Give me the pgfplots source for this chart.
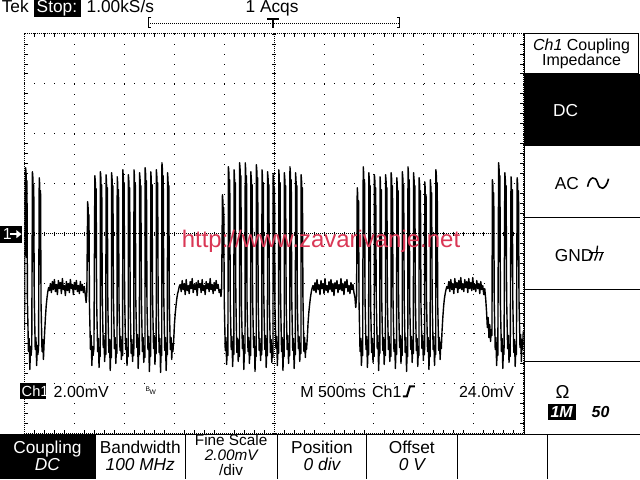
\documentclass[border=0pt]{standalone}
\usepackage{pgfplots}
\pgfplotsset{compat=1.18}
\usepackage{fontspec}
\setmainfont{Liberation Sans}
\definecolor{wm}{RGB}{218,55,85}
\begin{document}
\begin{tikzpicture}
\begin{scope}[x=0.75pt,y=-0.75pt]
\useasboundingbox (0,0) rectangle (640,480);
\fill[white] (0,0) rectangle (640,480);
\end{scope}
\begin{axis}[
  at={(18pt,-325.5pt)}, anchor=south west,
  width=375pt, height=300pt, scale only axis,
  xmin=24, xmax=524, ymin=34, ymax=434, y dir=reverse,
  xtick={24,74,...,524}, ytick={34,84,...,434},
  minor x tick num=4, minor y tick num=4,
  xticklabels={}, yticklabels={},
  tick align=inside, major tick length=0pt, minor tick length=2.5pt,
  tick style={black, line width=0.6pt},
  axis line style={black, line width=0.75pt, dash pattern=on 0.75pt off 0.75pt},
  grid=major,
  major grid style={black, line width=0.75pt, dash pattern=on 0.75pt off 6.75pt},
  extra x ticks={274}, extra y ticks={234},
  extra x tick labels={}, extra y tick labels={},
  extra tick style={grid=major, major grid style={black, line width=0.6pt, dash pattern=on 0.75pt off 0.75pt}},
]
\addplot[black, line width=1.05pt, line join=round, no marks] coordinates {
(24,330)(24.6,200)(25.2,168)(25.7,175)(26.1,258)(26.5,181)(27,302)(28,352)(28.7,339)(29.4,370)(30.1,347)(30.6,356)(31.3,348)
(32,172)(32.5,179)(32.9,262)(33.3,185)(33.8,298)(34.8,350)(35.5,338)(36.2,366)(36.9,346)(37.4,355)(38.1,349)
(38.8,178)(39.3,185)(39.7,265)(40.1,191)(40.6,304)(41.6,352)(42.3,340)(43,360)(43.6,345)(44.2,333)(45,318)(45.8,306)(46.6,298)(47.4,292)(48.2,288)
(49,291)(50,284)(51,293)(52,282)(53,290)(54,280)(55,292)(56,285)(57,295)(58,281)(59,289)(60,283)(61,294)(62,279)(63,290)(64,286)(65,296)(66,282)(67,291)(68,284)(69,293)(70,280)(71,289)(72,285)(73,295)(74,283)(75,290)(76,281)(77,292)(78,286)(79,294)(80,282)(81,291)(82,285)(83,293)(84,287)(85,296)(85.8,303)(86.5,292)
(87.3,202)(87.8,209)(88.2,262)(88.6,215)(89.1,305)(90.1,350)(90.8,336)(91.5,366)(92.2,347)(92.7,356)(93.6,349)
(94.5,176)(95,183)(95.4,258)(95.8,189)(96.3,302)(97.3,352)(98,339)(98.7,368)(99.4,348)(99.9,357)
(100.1,172)(100.6,179)(101,262)(101.4,185)(101.9,296)(102.9,348)(103.6,336)(104.3,362)(105,345)(105.5,355)
(105.7,175)(106.2,182)(106.6,255)(107,188)(107.5,306)(108.5,353)(109.2,340)(109.9,371)(110.6,347)(111.1,358)
(111.3,173)(111.8,180)(112.2,266)(112.6,186)(113.1,298)(114.1,349)(114.8,338)(115.5,364)(116.2,346)(116.7,354)
(116.9,177)(117.4,184)(117.8,259)(118.2,190)(118.7,303)(119.7,351)(120.4,337)(121.1,360)(121.8,344)(122.3,356)
(122.5,170)(123,177)(123.4,252)(123.8,183)(124.3,295)(125.3,350)(126,339)(126.7,366)(127.4,348)(127.9,357)
(128.1,175)(128.6,182)(129,264)(129.4,188)(129.9,308)(130.9,354)(131.6,340)(132.3,362)(133,345)(133.5,356)
(133.7,170)(134.2,177)(134.6,257)(135,183)(135.5,300)(136.5,348)(137.2,335)(137.9,369)(138.6,346)(139.1,355)
(139.3,173)(139.8,180)(140.2,261)(140.6,186)(141.1,297)(142.1,352)(142.8,338)(143.5,363)(144.2,347)(144.7,358)
(144.9,168)(145.4,175)(145.8,255)(146.2,181)(146.7,304)(147.7,350)(148.4,337)(149.1,372)(149.8,349)(150.3,357)
(150.5,172)(151,179)(151.4,263)(151.8,185)(152.3,299)(153.3,349)(154,336)(154.7,365)(155.4,345)(155.9,354)
(156.1,170)(156.6,177)(157,258)(157.4,183)(157.9,302)(158.9,353)(159.6,339)(160.3,373)(161,346)(161.5,356)
(161.7,163)(162.2,170)(162.6,256)(163,176)(163.5,296)(164.5,351)(165.2,338)(165.9,371)(166.6,347)(167.1,355)
(167.3,173)(167.8,180)(168.2,262)(168.6,186)(169.1,305)(170.1,350)(170.8,338)(171.5,360)(172.2,344)(172.7,352)
(173.5,340)(174.2,325)(175,314)(175.8,306)(176.6,299)(177.4,294)(178.2,291)(179,287)
(180,285)(181,292)(182,281)(183,290)(184,284)(185,295)(186,280)(187,291)(188,286)(189,294)(190,282)(191,289)(192,279)(193,293)(194,285)(195,290)(196,283)(197,296)(198,281)(199,288)(200,284)(201,293)(202,280)(203,291)(204,286)(205,295)(206,282)(207,289)(208,284)(209,292)(210,279)(211,290)(212,285)(213,294)(214,283)(215,291)(216,281)(217,289)(218,285)(219,293)(220,290)(220.8,297)(221.5,289)
(222.3,195)(222.8,202)(223.2,258)(223.6,208)(224.1,300)(225.1,351)(225.8,338)(226.5,365)(227.2,347)(227.7,356)
(228.3,167)(228.8,174)(229.2,260)(229.6,180)(230.1,303)(231.1,350)(231.8,337)(232.5,367)(233.2,346)(233.7,355)
(233.9,170)(234.4,177)(234.8,254)(235.2,183)(235.7,297)(236.7,353)(237.4,339)(238.1,362)(238.8,345)(239.3,357)
(239.5,163)(240,170)(240.4,265)(240.8,176)(241.3,306)(242.3,349)(243,336)(243.7,370)(244.4,348)(244.9,354)
(245.1,163)(245.6,170)(246,259)(246.4,176)(246.9,301)(247.9,352)(248.6,338)(249.3,364)(250,344)(250.5,356)
(250.7,172)(251.2,179)(251.6,262)(252,185)(252.5,299)(253.5,348)(254.2,337)(254.9,372)(255.6,347)(256.1,357)
(256.3,165)(256.8,172)(257.2,256)(257.6,178)(258.1,304)(259.1,351)(259.8,339)(260.5,361)(261.2,345)(261.7,355)
(261.9,170)(262.4,177)(262.8,263)(263.2,183)(263.7,296)(264.7,350)(265.4,336)(266.1,368)(266.8,348)(267.3,356)
(267.5,172)(268,179)(268.4,257)(268.8,185)(269.3,302)(270.3,353)(271,340)(271.7,363)(272.4,346)(272.9,358)
(273.1,175)(273.6,182)(274,261)(274.4,188)(274.9,307)(275.9,349)(276.6,337)(277.3,366)(278,344)(278.5,354)
(278.7,170)(279.2,177)(279.6,253)(280,183)(280.5,298)(281.5,352)(282.2,338)(282.9,371)(283.6,347)(284.1,357)
(284.3,173)(284.8,180)(285.2,264)(285.6,186)(286.1,303)(287.1,350)(287.8,336)(288.5,364)(289.2,345)(289.7,356)
(289.9,167)(290.4,174)(290.8,259)(291.2,180)(291.7,300)(292.7,351)(293.4,339)(294.1,369)(294.8,348)(295.3,355)
(295.5,173)(296,180)(296.4,256)(296.8,186)(297.3,305)(298.3,349)(299,337)(299.7,362)(300.4,346)(300.9,354)
(301.1,175)(301.6,182)(302,262)(302.4,188)(302.9,297)(303.9,352)(304.6,338)(305.3,358)(306,344)(306.5,350)
(307.3,338)(308,324)(308.8,313)(309.6,305)(310.4,298)(311.2,293)(312,289)(313,286)
(314,291)(315,283)(316,293)(317,280)(318,290)(319,285)(320,295)(321,281)(322,289)(323,284)(324,294)(325,279)(326,291)(327,286)(328,293)(329,282)(330,290)(331,280)(332,292)(333,284)(334,296)(335,283)(336,289)(337,281)(338,293)(339,285)(340,290)(341,279)(342,291)(343,284)(344,295)(345,282)(346,288)(347,280)(348,292)(349,286)(350,294)(351,283)(352,290)(353,285)(354,293)(355,298)(355.8,308)(356.6,297)
(357.3,188)(357.8,195)(358.2,264)(358.6,201)(359.1,303)(360.1,352)(360.8,339)(361.5,366)(362.2,347)(362.7,356)
(363.3,167)(363.8,174)(364.2,258)(364.6,180)(365.1,299)(366.1,350)(366.8,337)(367.5,368)(368.2,346)(368.7,355)
(368.9,173)(369.4,180)(369.8,261)(370.2,186)(370.7,304)(371.7,353)(372.4,339)(373.1,363)(373.8,345)(374.3,357)
(374.5,175)(375,182)(375.4,255)(375.8,188)(376.3,297)(377.3,349)(378,336)(378.7,371)(379.4,348)(379.9,354)
(380.1,177)(380.6,184)(381,263)(381.4,190)(381.9,306)(382.9,351)(383.6,338)(384.3,365)(385,344)(385.5,356)
(385.7,175)(386.2,182)(386.6,259)(387,188)(387.5,301)(388.5,350)(389.2,337)(389.9,362)(390.6,347)(391.1,357)
(391.3,173)(391.8,180)(392.2,256)(392.6,186)(393.1,298)(394.1,352)(394.8,340)(395.5,369)(396.2,346)(396.7,355)
(396.9,178)(397.4,185)(397.8,265)(398.2,191)(398.7,303)(399.7,348)(400.4,336)(401.1,364)(401.8,345)(402.3,356)
(402.5,172)(403,179)(403.4,260)(403.8,185)(404.3,300)(405.3,353)(406,338)(406.7,372)(407.4,348)(407.9,357)
(408.1,167)(408.6,174)(409,254)(409.4,180)(409.9,307)(410.9,350)(411.6,337)(412.3,363)(413,344)(413.5,354)
(413.7,173)(414.2,180)(414.6,262)(415,186)(415.5,299)(416.5,351)(417.2,339)(417.9,367)(418.6,347)(419.1,356)
(419.3,178)(419.8,185)(420.2,257)(420.6,191)(421.1,304)(422.1,349)(422.8,336)(423.5,361)(424.2,345)(424.7,355)
(424.9,182)(425.4,189)(425.8,263)(426.2,195)(426.7,302)(427.7,352)(428.4,338)(429.1,370)(429.8,348)(430.3,357)
(430.5,180)(431,187)(431.4,258)(431.8,193)(432.3,297)(433.3,350)(434,337)(434.7,366)(435.4,346)(435.9,355)
(436.1,170)(436.6,177)(437,261)(437.4,183)(437.9,305)(438.9,351)(439.6,338)(440.3,360)(441,343)(441.5,349)
(442.2,332)(443,318)(443.8,307)(444.6,299)(445.4,294)(446.2,290)(447,287)
(448,289)(449,282)(450,292)(451,280)(452,290)(453,284)(454,294)(455,279)(456,288)(457,283)(458,293)(459,281)(460,289)(461,278)(462,290)(463,284)(464,292)(465,280)(466,288)(467,282)(468,293)(469,279)(470,289)(471,283)(472,291)(473,278)(474,290)(475,285)(476,292)(477,281)(478,289)(479,284)(480,294)(481,282)(482,290)(483,286)(484,295)(485,289)
(486,300)(486.8,312)(487.6,328)(488.4,318)(489.2,338)(490,325)(490.8,342)(491.6,330)(492.2,336)
(492.7,180)(493.2,187)(493.6,259)(494,193)(494.5,302)(495.5,350)(496.2,338)(496.9,366)(497.6,347)(498.1,356)
(498.9,163)(499.4,170)(499.8,262)(500.2,176)(500.7,305)(501.7,352)(502.4,339)(503.1,369)(503.8,346)(504.3,355)
(505.1,173)(505.6,180)(506,256)(506.4,186)(506.9,298)(507.9,349)(508.6,336)(509.3,363)(510,345)(510.5,357)
(511.3,177)(511.8,184)(512.2,264)(512.6,190)(513.1,303)(514.1,353)(514.8,340)(515.5,367)(516.2,347)(516.7,355)
(517.5,178)(518,185)(518.4,260)(518.8,191)(519.3,300)(520.3,348)(521,335)(521.7,362)(522.4,340)(522.9,350)(523.6,332)(524,341)
};
\end{axis}
\begin{scope}[x=0.75pt,y=-0.75pt]
% center line cross ticks
\foreach \x in {24,34,...,524} \draw[line width=0.6pt] (\x,232) -- (\x,236);
\foreach \y in {34,44,...,434} \draw[line width=0.6pt] (272,\y) -- (276,\y);
% header
\node[anchor=base west, inner sep=0, font=\fontsize{13pt}{15pt}\selectfont] at (1,13) {Tek};
\fill[black] (34,0) rectangle (81,17);
\node[anchor=base west, inner sep=0, text=white, font=\fontsize{13pt}{15pt}\selectfont] at (36,13) {Stop:};
\node[anchor=base west, inner sep=0, font=\fontsize{13pt}{15pt}\selectfont] at (86,13) {1.00kS/s};
\node[anchor=base, inner sep=0, font=\fontsize{13pt}{15pt}\selectfont] at (272,13) {1 Acqs};
\draw[line width=0.75pt] (151,18) -- (148,18) -- (148,28) -- (151,28);
\draw[line width=0.75pt] (397,18) -- (400,18) -- (400,28) -- (397,28);
\draw[line width=0.75pt, dash pattern=on 0.75pt off 0.75pt] (148,24) -- (400,24);
\draw[line width=1.5pt] (267,19) -- (279,19);
\draw[line width=1.5pt] (273,19) -- (273,28);
% channel marker
\fill[black] (0,226) rectangle (22,243);
\node[anchor=base west, inner sep=0, text=white, font=\fontsize{12pt}{14pt}\selectfont] at (2,240) {1};
\draw[white, line width=1.2pt] (10,234.5) -- (17,234.5);
\fill[white] (21,234.5) -- (16,230.5) -- (16,238.5) -- cycle;
% watermark
\node[anchor=base, inner sep=0, text=wm, font=\fontsize{18pt}{20pt}\selectfont] at (321,248) {http://www.zavarivanje.net};
% readouts
\fill[black] (20,384) rectangle (46,400);
\node[anchor=base west, inner sep=0, text=white, font=\fontsize{11pt}{13pt}\selectfont] at (21,397) {Ch1};
\node[anchor=base west, inner sep=0, font=\fontsize{12pt}{14pt}\selectfont] at (53,398) {2.00mV};
\node[anchor=base west, inner sep=0, font=\fontsize{5pt}{5pt}\selectfont] at (145,392) {B};
\node[anchor=base west, inner sep=0, font=\fontsize{5pt}{5pt}\selectfont] at (149,395) {W};
\node[anchor=base west, inner sep=0, font=\fontsize{12pt}{14pt}\selectfont] at (300,398) {M 500ms};
\node[anchor=base west, inner sep=0, font=\fontsize{12pt}{14pt}\selectfont] at (372,398) {Ch1};
\draw[line width=1.5pt] (403,397) -- (407,397) -- (410,387) -- (415,387);
\node[anchor=base west, inner sep=0, font=\fontsize{12pt}{14pt}\selectfont] at (459,398) {24.0mV};
% right menu
\draw[line width=0.75pt] (525,34) rectangle (639,74);
\node[anchor=base, inner sep=0, font=\fontsize{12pt}{14pt}\selectfont] at (582,51) {\textit{Ch1} Coupling};
\node[anchor=base, inner sep=0, font=\fontsize{12pt}{14pt}\selectfont] at (582,66) {Impedance};
\fill[black] (525,74) rectangle (640,146);
\node[anchor=base, inner sep=0, text=white, font=\fontsize{13pt}{15pt}\selectfont] at (566,117) {DC};
\draw[line width=0.75pt] (525,74) -- (525,435);
\draw[line width=0.75pt] (525,218) -- (640,218);
\draw[line width=0.75pt] (525,290) -- (640,290);
\draw[line width=0.75pt] (525,362) -- (640,362);
\node[anchor=base west, inner sep=0, font=\fontsize{13pt}{15pt}\selectfont] at (555,190) {AC};
\draw[line width=1.2pt] (588,187) .. controls (590,176) and (596,176) .. (598,183) .. controls (600,191) and (606,191) .. (609,179);
\node[anchor=base west, inner sep=0, font=\fontsize{13pt}{15pt}\selectfont] at (555,262) {GND};
\draw[line width=1pt] (589,253) -- (604,253);
\draw[line width=1pt] (597,253) -- (598,246);
\draw[line width=1pt] (593,253) -- (590,261);
\draw[line width=1pt] (598,253) -- (595,261);
\draw[line width=1pt] (603,253) -- (600,261);
\node[anchor=base, inner sep=0, font=\fontsize{14pt}{16pt}\selectfont] at (563,399) {Ω};
\fill[black] (548,405) rectangle (576,421);
\node[anchor=base, inner sep=0, text=white, font=\fontsize{12pt}{14pt}\selectfont\bfseries\itshape] at (562,418) {1M};
\node[anchor=base, inner sep=0, font=\fontsize{12pt}{14pt}\selectfont\bfseries\itshape] at (601,418) {50};
% bottom buttons
\draw[line width=0.75pt] (0,435) -- (640,435);
\fill[black] (0,435) rectangle (95,480);
\foreach \x in {95,185,277,367,458,548} \draw[line width=0.75pt] (\x,435) -- (\x,480);
\node[anchor=base, inner sep=0, text=white, font=\fontsize{13pt}{15pt}\selectfont] at (47,454) {Coupling};
\node[anchor=base, inner sep=0, text=white, font=\fontsize{13pt}{15pt}\selectfont\itshape] at (47,471) {DC};
\node[anchor=base, inner sep=0, font=\fontsize{13pt}{15pt}\selectfont] at (140,454) {Bandwidth};
\node[anchor=base, inner sep=0, font=\fontsize{13pt}{15pt}\selectfont\itshape] at (140,471) {100 MHz};
\node[anchor=base, inner sep=0, font=\fontsize{11.5pt}{13pt}\selectfont] at (231,446) {Fine Scale};
\node[anchor=base, inner sep=0, font=\fontsize{11.5pt}{13pt}\selectfont\itshape] at (231,461) {2.00mV};
\node[anchor=base, inner sep=0, font=\fontsize{11.5pt}{13pt}\selectfont] at (231,476) {/div};
\node[anchor=base, inner sep=0, font=\fontsize{13pt}{15pt}\selectfont] at (322,454) {Position};
\node[anchor=base, inner sep=0, font=\fontsize{13pt}{15pt}\selectfont\itshape] at (322,471) {0 div};
\node[anchor=base, inner sep=0, font=\fontsize{13pt}{15pt}\selectfont] at (412,454) {Offset};
\node[anchor=base, inner sep=0, font=\fontsize{13pt}{15pt}\selectfont\itshape] at (412,471) {0 V};
\end{scope}
\end{tikzpicture}
\end{document}
